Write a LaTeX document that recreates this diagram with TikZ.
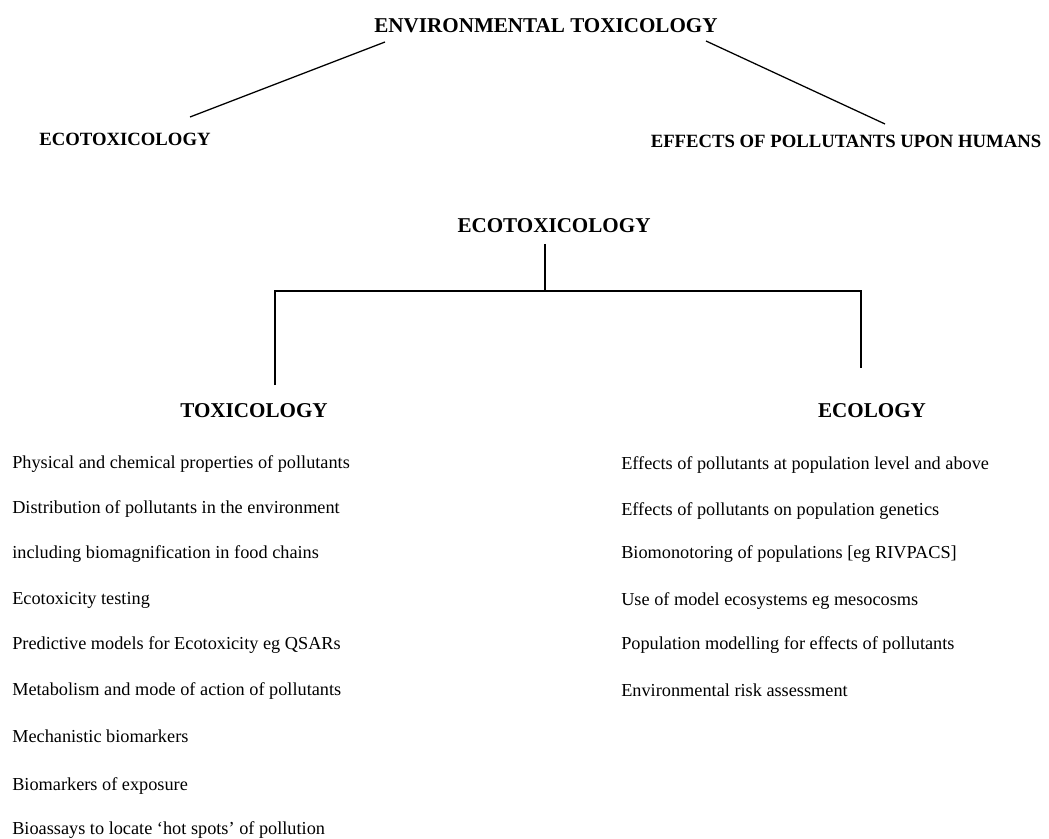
\documentclass[tikz,border=0pt]{standalone}
\usepackage{fontspec}
\setmainfont{Liberation Serif}
\usepackage{tikz}
\usetikzlibrary{positioning}

\begin{document}
\begin{tikzpicture}[
        x=0.025cm, y=-0.025cm,
        big/.style = {font=\fontsize{15}{18}\selectfont\bfseries, inner sep=0pt, anchor=base},
        mid/.style = {font=\fontsize{13.3}{16}\selectfont\bfseries, inner sep=0pt, anchor=base},
        item/.style = {font=\fontsize{13}{16}\selectfont, inner sep=0pt, anchor=base west},
        link/.style = {draw, line width=0.9pt},
        ]
        \useasboundingbox (0,0) rectangle (1049,839);

        % top level
        \node[big](env) at (546,33) {ENVIRONMENTAL TOXICOLOGY};
        \node[mid](ecoA) at (125,146) {ECOTOXICOLOGY};
        \node[mid](hum) at (846,148) {EFFECTS OF POLLUTANTS UPON HUMANS};
        \coordinate (envL) at (385,42);
        \coordinate (envR) at (706,41);
        \coordinate (ecoAt) at (190,117);
        \coordinate (humt) at (885,124);
        \draw[link] (envL) -- (ecoAt);
        \draw[link] (envR) -- (humt);

        % ecotoxicology tree
        \node[big](ecoB) at (554,233) {ECOTOXICOLOGY};
        \node[big](tox) at (254,417) {TOXICOLOGY};
        \node[big](ecol) at (872,417) {ECOLOGY};
        \coordinate (ecoBs) at (545,244);
        \coordinate (fork) at (545,291);
        \coordinate (toxn) at (275,385);
        \coordinate (ecoln) at (861,368);
        \draw[link] (ecoBs) -- (fork);
        \draw[link] (toxn) |- (fork) -| (ecoln);

        % toxicology items
        \node[item](t1) at (12,468) {Physical and chemical properties of pollutants};
        \node[item](t2) at (12,513) {Distribution of pollutants in the environment};
        \node[item](t3) at (12,558) {including biomagnification in food chains};
        \node[item](t4) at (12,604) {Ecotoxicity testing};
        \node[item](t5) at (12,649) {Predictive models for Ecotoxicity eg QSARs};
        \node[item](t6) at (12,695) {Metabolism and mode of action of pollutants};
        \node[item](t7) at (12,742) {Mechanistic biomarkers};
        \node[item](t8) at (12,790) {Biomarkers of exposure};
        \node[item](t9) at (12,834) {Bioassays to locate `hot spots' of pollution};

        % ecology items
        \node[item](e1) at (621,469) {Effects of pollutants at population level and above};
        \node[item](e2) at (621,515) {Effects of pollutants on population genetics};
        \node[item](e3) at (621,558) {Biomonotoring of populations [eg RIVPACS]};
        \node[item](e4) at (621,605) {Use of model ecosystems eg mesocosms};
        \node[item](e5) at (621,649) {Population modelling for effects of pollutants};
        \node[item](e6) at (621,696) {Environmental risk assessment};
\end{tikzpicture}
\end{document}
